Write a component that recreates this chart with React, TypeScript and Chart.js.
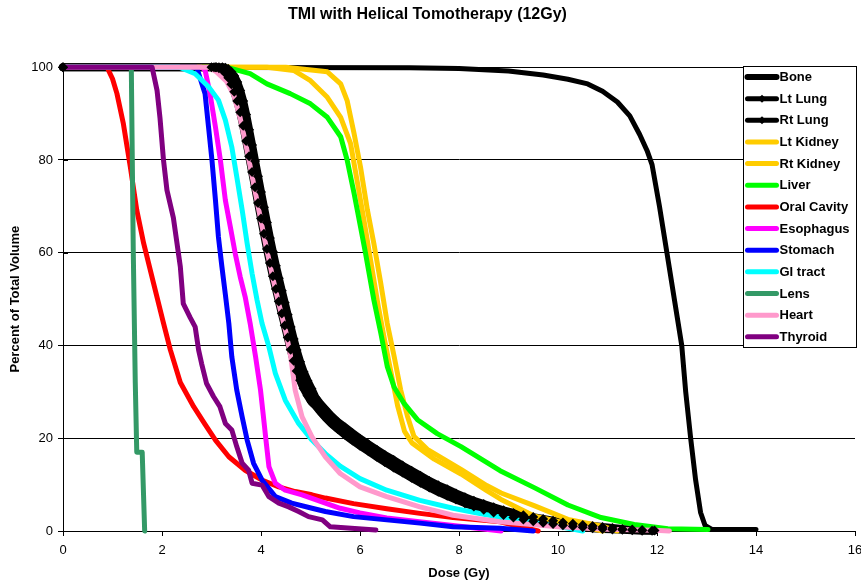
import React, { useEffect, useRef } from 'react';
import { Chart, registerables } from 'chart.js';

Chart.register(...registerables);

const FONT = '"Liberation Sans", Arial, Helvetica, sans-serif';

const chartTitle = 'TMI with Helical Tomotherapy (12Gy)';
const xAxisTitle = 'Dose (Gy)';
const yAxisTitle = 'Percent of Total Volume';
const xTickValues = [0, 2, 4, 6, 8, 10, 12, 14, 16];
const yTickValues = [0, 20, 40, 60, 80, 100];

const seriesNames = ['Bone', 'Lt Lung', 'Rt Lung', 'Lt Kidney', 'Rt Kidney', 'Liver', 'Oral Cavity', 'Esophagus', 'Stomach', 'GI tract', 'Lens', 'Heart', 'Thyroid'];
const seriesColors = ['#000000', '#000000', '#000000', '#FFCC00', '#FFCC00', '#00FF00', '#FF0000', '#FF00FF', '#0000FF', '#00FFFF', '#339966', '#FF99CC', '#800080'];

const boneDose = [0, 7, 8, 9, 9.7, 10.2, 10.6, 10.9, 11.2, 11.45, 11.65, 11.8, 11.9, 12.05, 12.2, 12.35, 12.5, 12.58, 12.68, 12.78, 12.88, 12.97, 13.1, 14.0];
const boneVol = [100, 99.9, 99.7, 99.2, 98.3, 97.4, 96.4, 94.8, 92.5, 89.5, 85.5, 82, 79, 70, 60, 50, 40, 30, 20, 11, 4, 1.2, 0.4, 0.3];

const ltLungDose = [0, 3.0, 3.08, 3.15, 3.22, 3.28, 3.34, 3.4, 3.46, 3.52, 3.58, 3.64, 3.7, 3.76, 3.82, 3.88, 3.94, 4.0, 4.06, 4.12, 4.18, 4.24, 4.3, 4.36, 4.42, 4.48, 4.54, 4.6, 4.66, 4.72, 4.79, 4.86, 4.94, 5.02, 5.1, 5.2, 5.3, 5.42, 5.55, 5.7, 5.85, 6.0, 6.17, 6.34, 6.5, 6.68, 6.86, 7.04, 7.22, 7.4, 7.58, 7.76, 7.94, 8.12, 8.3, 8.5, 8.7, 8.9, 9.1, 9.3, 9.5, 9.7, 9.9, 10.1, 10.3, 10.5, 10.7, 10.9, 11.1, 11.3, 11.5, 11.7, 11.9];
const ltLungVol = [100, 100, 100, 99.8, 99.4, 98.7, 97.7, 96.3, 94.7, 92.7, 90.3, 87.4, 84.1, 80.8, 77.4, 74.1, 70.7, 67.4, 64.1, 60.8, 57.8, 54.9, 52.2, 49.5, 46.9, 44.3, 41.7, 39.1, 36.7, 34.5, 32.5, 30.75, 29.2, 27.85, 27.0, 25.7, 24.5, 23.2, 22.0, 20.7, 19.5, 18.4, 17.2, 16.0, 14.9, 13.7, 12.6, 11.5, 10.4, 9.4, 8.45, 7.6, 6.8, 6.0, 5.3, 4.6, 4.0, 3.45, 2.9, 2.5, 2.1, 1.8, 1.5, 1.25, 1.0, 0.8, 0.6, 0.45, 0.35, 0.25, 0.15, 0.08, 0.03];

const rtLungDose = [0, 3.05, 3.1, 3.15, 3.22, 3.28, 3.34, 3.4, 3.46, 3.52, 3.58, 3.64, 3.7, 3.76, 3.82, 3.88, 3.94, 4.0, 4.06, 4.12, 4.18, 4.24, 4.3, 4.36, 4.42, 4.48, 4.54, 4.6, 4.66, 4.72, 4.79, 4.86, 4.94, 5.02, 5.1, 5.2, 5.3, 5.42, 5.55, 5.7, 5.85, 6.0, 6.17, 6.34, 6.5, 6.68, 6.86, 7.04, 7.22, 7.4, 7.58, 7.76, 7.94, 8.12, 8.3, 8.5, 8.7, 8.9, 9.1, 9.3, 9.5, 9.7, 9.9, 10.1, 10.3, 10.5, 10.7, 10.9, 11.1, 11.3, 11.5, 11.7, 11.95];
const rtLungVol = [100, 100, 100, 100, 100, 99.9, 99.6, 99.0, 98.1, 96.8, 95.0, 92.7, 89.8, 86.5, 83.2, 79.8, 76.5, 73.1, 69.8, 66.5, 63.2, 60.2, 57.2, 54.5, 51.8, 49.2, 46.6, 44.0, 41.4, 39.0, 36.5, 34.35, 32.4, 30.65, 28.8, 27.4, 26.2, 24.8, 23.5, 22.3, 21.1, 19.9, 18.7, 17.5, 16.4, 15.3, 14.1, 13.0, 11.9, 10.8, 9.85, 9.0, 8.1, 7.3, 6.5, 5.8, 5.1, 4.45, 3.9, 3.4, 3.0, 2.6, 2.2, 1.85, 1.55, 1.3, 1.1, 0.85, 0.65, 0.45, 0.32, 0.2, 0.12];

const ltKidneyDose = [0, 4.12, 4.66, 5.0, 5.34, 5.61, 5.81, 5.95, 6.08, 6.22, 6.36, 6.5, 6.63, 6.76, 6.9, 7.05, 7.5, 8.04, 8.56, 8.85, 9.53, 10.4, 10.9];
const ltKidneyVol = [100, 100, 99.3, 97.1, 93.5, 89.2, 83.5, 75, 67, 58, 49, 41, 34, 27, 21.5, 19, 15.5, 12.3, 8.7, 6.8, 3.2, 1.1, 0];

const rtKidneyDose = [0, 4.5, 5.34, 5.61, 5.74, 5.88, 6.01, 6.15, 6.28, 6.42, 6.55, 6.69, 6.82, 6.96, 7.09, 7.36, 8.04, 8.56, 8.85, 9.53, 10.2, 10.87, 11.2];
const rtKidneyVol = [100, 100, 99, 96.4, 92.8, 85.7, 78.5, 69.2, 62, 53.4, 44.8, 37.6, 30.5, 24.7, 20.4, 17.6, 13.3, 9.8, 8.2, 5.4, 2.5, 1.1, 0];

const liverDose = [0, 3.3, 3.78, 4.12, 4.59, 5.0, 5.34, 5.61, 5.74, 5.88, 6.01, 6.11, 6.28, 6.42, 6.55, 6.69, 6.89, 7.16, 7.56, 8.04, 8.83, 9.53, 10.2, 10.87, 11.54, 12.22, 13.03];
const liverVol = [100, 100, 98.6, 96.4, 94.3, 92.1, 89.2, 85, 80, 72.8, 65.6, 60, 49.8, 42.7, 35.5, 31, 27.5, 24, 21, 18.2, 13, 9.3, 5.6, 2.9, 1.4, 0.5, 0.3];

const oralDose = [0, 0.89, 1.0, 1.09, 1.22, 1.36, 1.49, 1.63, 1.83, 2.03, 2.17, 2.37, 2.64, 2.87, 3.08, 3.35, 3.68, 4.02, 4.36, 4.69, 5.03, 5.3, 5.87, 6.54, 7.21, 7.88, 8.83, 9.6];
const oralVol = [100, 100, 97.5, 94.3, 87.8, 78.5, 69.2, 62, 53.4, 44.8, 39, 32, 26.8, 23, 19.6, 16, 13.1, 11, 9.5, 8.5, 7.8, 7.1, 5.9, 4.8, 3.8, 2.9, 2.0, 0];

const esophagusDose = [0, 2.8, 2.87, 2.97, 3.08, 3.18, 3.28, 3.38, 3.48, 3.58, 3.68, 3.78, 3.89, 3.99, 4.05, 4.1, 4.16, 4.29, 4.49, 4.83, 5.3, 5.6, 6.0, 6.54, 7.2, 7.88, 8.85];
const esophagusVol = [100, 100, 99.4, 94.3, 87.1, 79.9, 71.3, 65.6, 59.8, 54.8, 50.5, 44.8, 37.6, 30.4, 24.6, 19.6, 13.9, 10.3, 8.8, 7.8, 6.0, 4.9, 3.9, 2.8, 2.0, 1.2, 0];

const stomachDose = [0, 2.7, 2.87, 2.94, 3.01, 3.08, 3.14, 3.21, 3.28, 3.35, 3.41, 3.51, 3.62, 3.72, 3.85, 4.02, 4.29, 4.62, 5.03, 5.3, 5.87, 6.54, 7.21, 7.88, 8.83, 9.5];
const stomachVol = [100, 100, 94.3, 87.1, 79.9, 71.3, 63.4, 57, 51, 44.8, 37.6, 30.4, 24.6, 19.6, 14.6, 11, 7.4, 6, 4.9, 4.2, 3.1, 2.4, 1.7, 0.9, 0.6, 0];

const giDose = [0, 2.35, 2.67, 2.94, 3.14, 3.28, 3.41, 3.51, 3.62, 3.72, 3.82, 3.92, 4.02, 4.16, 4.29, 4.49, 4.76, 5.03, 5.3, 5.6, 6.0, 6.54, 7.21, 7.88, 8.5, 9.2, 10.0, 10.5];
const giVol = [100, 100, 98.6, 95.8, 92.9, 88.6, 82.8, 76.4, 69.2, 62, 55.5, 49.8, 44.8, 39.7, 34, 28.2, 23.2, 19.6, 16.7, 14, 11.3, 8.8, 6.6, 4.9, 3.6, 2.3, 1.0, 0];

const lensDose = [0, 1.38, 1.42, 1.46, 1.49, 1.6, 1.65];
const lensVol = [100, 100, 60, 32, 17, 17, 0];

const heartDose = [0, 2.95, 3.1, 3.3, 3.45, 3.58, 3.7, 3.83, 3.96, 4.1, 4.24, 4.36, 4.5, 4.6, 4.69, 4.83, 5.03, 5.3, 5.6, 6.0, 6.54, 7.21, 7.88, 8.83, 10.0, 11.0, 11.95, 12.25];
const heartVol = [100, 100, 99, 97, 94, 89, 83, 76, 69, 61.5, 54.5, 49, 43, 37.6, 30.4, 24.6, 20.3, 16, 12.4, 9.5, 7.4, 5.2, 3.4, 2.0, 0.9, 0.4, 0.15, 0];

const thyroidDose = [0, 1.8, 1.9, 1.96, 2.03, 2.1, 2.23, 2.37, 2.43, 2.57, 2.67, 2.74, 2.8, 2.9, 3.04, 3.17, 3.28, 3.41, 3.51, 3.62, 3.75, 3.82, 4.02, 4.16, 4.36, 4.56, 4.76, 4.96, 5.24, 5.4, 6.32];
const thyroidVol = [100, 100, 95, 89, 80, 73.5, 67.5, 57, 49, 46, 44, 39, 36.1, 31.8, 29, 26.8, 23.2, 21.8, 18.2, 14.6, 13.1, 10.3, 9.9, 7.4, 6, 5.2, 4.2, 3.1, 2.4, 0.9, 0.2];

const seriesDose = [boneDose, ltLungDose, rtLungDose, ltKidneyDose, rtKidneyDose, liverDose, oralDose, esophagusDose, stomachDose, giDose, lensDose, heartDose, thyroidDose];
const seriesVol = [boneVol, ltLungVol, rtLungVol, ltKidneyVol, rtKidneyVol, liverVol, oralVol, esophagusVol, stomachVol, giVol, lensVol, heartVol, thyroidVol];
const lungSeries = [1, 2];

const toPoints = (d: number[], v: number[]) => d.map((x, i) => ({ x, y: v[i] }));

const boxLegend = {
  id: 'boxLegend',
  beforeDatasetsDraw(chart: any) {
    const { ctx, chartArea } = chart;
    const ys = chart.scales.y;
    ctx.save();
    ctx.strokeStyle = '#000';
    ctx.lineWidth = 1;
    yTickValues.forEach((v) => {
      const py = Math.round(ys.getPixelForValue(v)) + 0.5;
      ctx.beginPath();
      ctx.moveTo(chartArea.left, py);
      ctx.lineTo(chartArea.left + 5, py);
      ctx.stroke();
    });
    ctx.restore();
  },
  afterDraw(chart: any) {
    const { ctx, chartArea } = chart;
    const w = 113;
    const h = 281;
    const left = Math.round(chartArea.right) - w + 1.5;
    const top = Math.round(chartArea.top) - 0.5;
    ctx.save();
    ctx.fillStyle = '#ffffff';
    ctx.fillRect(left, top, w, h);
    ctx.strokeStyle = '#000000';
    ctx.lineWidth = 1;
    ctx.strokeRect(left, top, w, h);
    ctx.font = 'bold 13px ' + FONT;
    ctx.textBaseline = 'middle';
    ctx.textAlign = 'left';
    const step = 21.65;
    seriesNames.forEach((name, i) => {
      const y = top + 10.5 + i * step;
      ctx.strokeStyle = seriesColors[i];
      ctx.lineWidth = i === 0 ? 6 : 5;
      ctx.lineCap = 'round';
      ctx.beginPath();
      ctx.moveTo(left + 4, y);
      ctx.lineTo(left + 33, y);
      ctx.stroke();
      if (lungSeries.includes(i)) {
        const cx = left + 18.5;
        ctx.fillStyle = seriesColors[i];
        ctx.beginPath();
        ctx.moveTo(cx, y - 4);
        ctx.lineTo(cx + 4, y);
        ctx.lineTo(cx, y + 4);
        ctx.lineTo(cx - 4, y);
        ctx.closePath();
        ctx.fill();
      }
      ctx.fillStyle = '#000000';
      ctx.fillText(name, left + 36, y + 0.5);
    });
    ctx.restore();
  },
};

export default function App() {
  const canvasRef = useRef<HTMLCanvasElement | null>(null);

  useEffect(() => {
    const canvas = canvasRef.current;
    if (!canvas) return;
    const n = seriesNames.length;
    const datasets: any[] = seriesNames.map((name, i) => ({
      label: name,
      data: toPoints(seriesDose[i], seriesVol[i]),
      showLine: true,
      borderColor: seriesColors[i],
      backgroundColor: seriesColors[i],
      borderWidth: lungSeries.includes(i) ? 8 : 5,
      pointRadius: 0,
      pointHoverRadius: 0,
      tension: 0,
      borderJoinStyle: 'round',
      borderCapStyle: 'round',
      clip: 8,
      order: n + 2 - i,
    }));
    lungSeries.forEach((i) => {
      datasets.push({
        label: seriesNames[i] + ' markers',
        data: toPoints(seriesDose[i], seriesVol[i]),
        showLine: false,
        pointStyle: 'rectRot',
        pointRadius: 5,
        pointBorderWidth: 0,
        pointBackgroundColor: seriesColors[i],
        pointBorderColor: seriesColors[i],
        clip: false,
        order: 0,
      });
    });

    const chart = new Chart(canvas, {
      type: 'scatter',
      data: { datasets },
      plugins: [boxLegend],
      options: {
        animation: false,
        responsive: false,
        devicePixelRatio: 1,
        events: [],
        layout: { padding: { left: 0, right: 6, top: 0, bottom: 0 } },
        plugins: {
          legend: { display: false },
          tooltip: { enabled: false },
          title: {
            display: true,
            text: chartTitle,
            color: '#000000',
            font: { family: FONT, size: 16, weight: 'bold' },
            padding: { top: 5, bottom: 43 },
          },
        },
        scales: {
          x: {
            type: 'linear',
            min: 0,
            max: 16,
            afterBuildTicks: (s: any) => { s.ticks = xTickValues.map((v) => ({ value: v })); },
            afterFit: (s: any) => { s.height = 53; s.paddingLeft = 0; s.paddingRight = 0; },
            ticks: { color: '#000000', font: { family: FONT, size: 13 }, padding: 7, maxRotation: 0 },
            grid: { drawOnChartArea: false, drawTicks: true, tickLength: 5, color: '#000000', lineWidth: 1 },
            border: { display: true, color: '#000000', width: 1 },
            title: {
              display: true,
              text: xAxisTitle,
              color: '#000000',
              font: { family: FONT, size: 13, weight: 'bold' },
              padding: { top: 0, bottom: 3 },
            },
          },
          y: {
            type: 'linear',
            min: 0,
            max: 100,
            afterBuildTicks: (s: any) => { s.ticks = yTickValues.map((v) => ({ value: v })); },
            afterFit: (s: any) => { s.width = 63; },
            ticks: { color: '#000000', font: { family: FONT, size: 13 }, padding: 5 },
            grid: { drawOnChartArea: true, drawTicks: true, tickLength: 5, color: '#000000', lineWidth: 1 },
            border: { display: true, color: '#000000', width: 1 },
            title: {
              display: true,
              text: yAxisTitle,
              color: '#000000',
              font: { family: FONT, size: 13, weight: 'bold' },
              padding: { top: 8, bottom: 0 },
            },
          },
        },
      },
    });
    return () => chart.destroy();
  }, []);

  return (
    <div style={{ position: 'fixed', left: 0, top: 0, width: 861, height: 584, background: '#ffffff' }}>
      <canvas ref={canvasRef} width={861} height={584} style={{ display: 'block' }} />
    </div>
  );
}
